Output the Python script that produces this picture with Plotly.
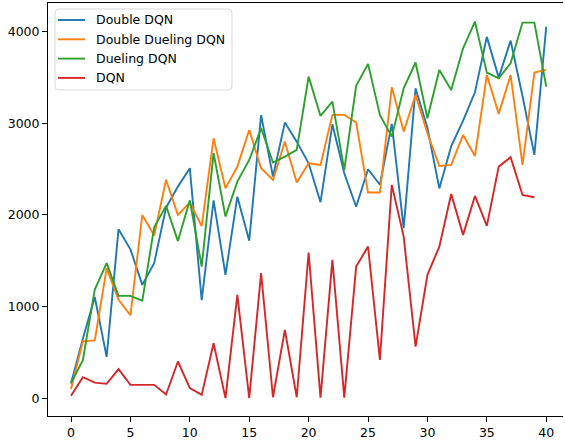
import plotly.graph_objects as go

episodes = list(range(41))
dqn_episodes = list(range(40))

double_dqn = [160, 650, 1105, 450, 1845, 1625, 1237, 1474, 2080, 2310,
              2511, 1070, 2160, 1346, 2200, 1720, 3090, 2419, 3009, 2801,
              2565, 2140, 2990, 2456, 2090, 2500, 2330, 2995, 1856, 3384,
              2950, 2290, 2750, 3030, 3340, 3945, 3500, 3904, 3300, 2656,
              4057]

double_dueling_dqn = [100, 620, 630, 1420, 1074, 905, 2000, 1775, 2385, 2000,
                      2135, 1878, 2838, 2293, 2528, 2929, 2510, 2383, 2801, 2354,
                      2565, 2547, 3093, 3093, 3010, 2245, 2245, 3395, 2911, 3311,
                      2893, 2536, 2547, 2874, 2645, 3529, 3104, 3529, 2547, 3555,
                      3584]

dueling_dqn = [164, 415, 1185, 1474, 1117, 1117, 1064, 1865, 2100, 1715,
               2160, 1437, 2675, 1983, 2365, 2601, 2948, 2573, 2638, 2711,
               3511, 3082, 3238, 2492, 3410, 3650, 3093, 2856, 3384, 3665,
               3057, 3584, 3366, 3821, 4111, 3555, 3493, 3657, 4101, 4101,
               3402]

dqn = [25, 229, 170, 156, 317, 145, 145, 145, 40, 400,
       109, 36, 600, 0, 1128, 0, 1365, 10, 746, 10,
       1590, 5, 1510, 5, 1437, 1655, 418, 2329, 1764, 563,
       1346, 1655, 2230, 1783, 2208, 1881, 2528, 2631, 2219, 2194]

x_ticks = [0, 5, 10, 15, 20, 25, 30, 35, 40]
y_ticks = [0, 1000, 2000, 3000, 4000]

series_names = ["Double DQN", "Double Dueling DQN", "Dueling DQN", "DQN"]
series_x = [episodes, episodes, episodes, dqn_episodes]
series_y = [double_dqn, double_dueling_dqn, dueling_dqn, dqn]
series_colors = ["#1f77b4", "#ff7f0e", "#2ca02c", "#d62728"]

W, H = 565, 442
L, R, T, B = 48, 2, 3, 26
pw, ph = W - L - R, H - T - B


def px_x(p):
    return (p - L) / pw


def px_y(p):
    return (H - B - p) / ph


font = dict(family="DejaVu Sans", size=12.5, color="black")

fig = go.Figure()
for name, xs, ys, col in zip(series_names, series_x, series_y, series_colors):
    fig.add_trace(go.Scatter(x=xs, y=ys, mode="lines", name=name,
                             line=dict(color=col, width=1.9)))

# matplotlib-style legend: rounded frame, line samples and labels
x0, x1, y0, y1 = 55, 232, 9, 90
r = 4
rx, ry = r / pw, r / ph
X0, X1, Y0, Y1 = px_x(x0), px_x(x1), px_y(y1), px_y(y0)
path = (f"M {X0+rx},{Y1} L {X1-rx},{Y1} Q {X1},{Y1} {X1},{Y1-ry} "
        f"L {X1},{Y0+ry} Q {X1},{Y0} {X1-rx},{Y0} L {X0+rx},{Y0} "
        f"Q {X0},{Y0} {X0},{Y0+ry} L {X0},{Y1-ry} Q {X0},{Y1} {X0+rx},{Y1} Z")
fig.add_shape(type="path", path=path, xref="paper", yref="paper",
              line=dict(color="#d9d9d9", width=1),
              fillcolor="rgba(255,255,255,0.8)", layer="above")

row0, row_gap = 20.0, 19.3
for i, (name, col) in enumerate(zip(series_names, series_colors)):
    yc = px_y(row0 + i * row_gap)
    fig.add_shape(type="line", xref="paper", yref="paper",
                  x0=px_x(58), x1=px_x(85), y0=yc, y1=yc,
                  line=dict(color=col, width=1.9), layer="above")
    fig.add_annotation(xref="paper", yref="paper", x=px_x(95), y=yc,
                       xanchor="left", yanchor="middle", text=name,
                       showarrow=False, font=font, borderpad=0)

fig.update_layout(
    width=W, height=H,
    margin=dict(l=L, r=R, t=T, b=B, pad=0),
    paper_bgcolor="white", plot_bgcolor="white",
    font=font,
    showlegend=False,
    xaxis=dict(range=[-1.936, 41.41], tickvals=x_ticks,
               ticktext=[str(v) for v in x_ticks],
               ticks="outside", ticklen=5, tickwidth=1, tickcolor="black",
               showline=True, linecolor="black", linewidth=1, mirror=True,
               showgrid=False, zeroline=False, tickfont=font),
    yaxis=dict(range=[-195, 4315], tickvals=y_ticks,
               ticktext=[str(v) for v in y_ticks],
               ticks="outside", ticklen=5, tickwidth=1, tickcolor="black",
               showline=True, linecolor="black", linewidth=1, mirror=False,
               showgrid=False, zeroline=False, tickfont=font),
)

fig.write_html("out.html",
               config={"displayModeBar": False},
               post_script="document.body.style.margin='0';"
                           "document.body.style.overflow='hidden';")
